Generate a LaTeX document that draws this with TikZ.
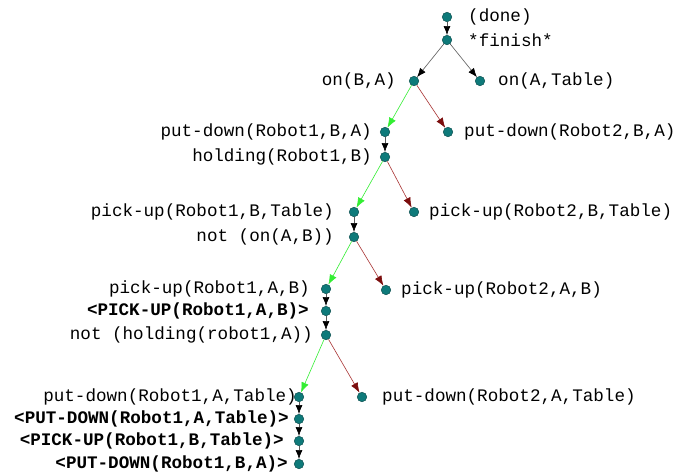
\documentclass[tikz,border=0pt]{standalone}
\usepackage{fontspec}
\usetikzlibrary{arrows.meta}
\newfontfamily\lblfont{Liberation Mono}
\definecolor{dotc}{HTML}{0E7A7A}
\definecolor{dotd}{HTML}{0A4F4F}
\definecolor{grn}{HTML}{33EE33}
\definecolor{rd}{HTML}{9A1010}
\begin{document}
\begin{tikzpicture}[x=1pt,y=-1pt,
  dot/.style={circle, fill=dotc, draw=dotd, line width=0.5pt, minimum size=9.5pt, inner sep=0pt},
  lblL/.style={anchor=east, inner sep=0pt, font=\lblfont\fontsize{17.6}{20}\selectfont},
  lblR/.style={anchor=west, inner sep=0pt, font=\lblfont\fontsize{17.6}{20}\selectfont},
  blk/.style={-{Latex[length=9pt,width=7pt,color=black]}, draw=black!65, line width=0.6pt},
  gr/.style={-{Latex[length=10pt,width=7.5pt]}, draw=grn, line width=0.6pt},
  rr/.style={-{Latex[length=10pt,width=7.5pt,color=rd!80!black]}, draw=rd!85, line width=0.6pt}]
\useasboundingbox[fill=white] (0,0) rectangle (680,472);
% dots
\node[dot] (done) at (447,17) {};
\node[dot] (fin) at (447,40) {};
\node[dot] (onBA) at (414,81) {};
\node[dot] (onAT) at (480,81) {};
\node[dot] (pdRaBA) at (385,132) {};
\node[dot] (pdRbBA) at (448,132) {};
\node[dot] (hold) at (385,157) {};
\node[dot] (puRaBT) at (354,212) {};
\node[dot] (puRbBT) at (414,212) {};
\node[dot] (noton) at (354,237) {};
\node[dot] (puRaAB) at (326,289) {};
\node[dot] (puRbAB) at (386,290) {};
\node[dot] (PUa) at (326,311) {};
\node[dot] (nothold) at (326,335) {};
\node[dot] (pdRaAT) at (299,397) {};
\node[dot] (pdRbAT) at (362,397) {};
\node[dot] (PDa) at (299,419) {};
\node[dot] (PUb) at (299,441) {};
\node[dot] (PDb) at (299,464) {};
% labels
\node[lblR] (tdone) at (468,17) {(done)};
\node[lblR] (tfin) at (468,40) {*finish*};
\node[lblL] (tonBA) at (396,81) {on(B,A)};
\node[lblR] (tonAT) at (498,81) {on(A,Table)};
\node[lblL] (tpdRaBA) at (372,132) {put-down(Robot1,B,A)};
\node[lblR] (tpdRbBA) at (464,132) {put-down(Robot2,B,A)};
\node[lblL] (thold) at (372,157) {holding(Robot1,B)};
\node[lblL] (tpuRaBT) at (334,212) {pick-up(Robot1,B,Table)};
\node[lblR] (tpuRbBT) at (429,212) {pick-up(Robot2,B,Table)};
\node[lblL] (tnoton) at (334,237) {not (on(A,B))};
\node[lblL] (tpuRaAB) at (310,289) {pick-up(Robot1,A,B)};
\node[lblR] (tpuRbAB) at (401,290) {pick-up(Robot2,A,B)};
\node[lblL] (tPUa) at (309,311) {\bfseries <PICK-UP(Robot1,A,B)>};
\node[lblL] (tnothold) at (313,335) {not (holding(robot1,A))};
\node[lblL] (tpdRaAT) at (297,397) {put-down(Robot1,A,Table)};
\node[lblR] (tpdRbAT) at (382,397) {put-down(Robot2,A,Table)};
\node[lblL] (tPDa) at (289,419) {\bfseries <PUT-DOWN(Robot1,A,Table)>};
\node[lblL] (tPUb) at (284,441) {\bfseries <PICK-UP(Robot1,B,Table)>};
\node[lblL] (tPDb) at (288,464) {\bfseries <PUT-DOWN(Robot1,B,A)>};
% connectors
\draw[blk] (done) -- (fin);
\draw[blk] (fin) -- (onBA);
\draw[blk] (fin) -- (onAT);
\draw[gr] (onBA) -- (pdRaBA);
\draw[rr] (onBA) -- (pdRbBA);
\draw[blk] (pdRaBA) -- (hold);
\draw[gr] (hold) -- (puRaBT);
\draw[rr] (hold) -- (puRbBT);
\draw[blk] (puRaBT) -- (noton);
\draw[gr] (noton) -- (puRaAB);
\draw[rr] (noton) -- (puRbAB);
\draw[blk] (puRaAB) -- (PUa);
\draw[blk] (PUa) -- (nothold);
\draw[gr] (nothold) -- (pdRaAT);
\draw[rr] (nothold) -- (pdRbAT);
\draw[blk] (pdRaAT) -- (PDa);
\draw[blk] (PDa) -- (PUb);
\draw[blk] (PUb) -- (PDb);
\end{tikzpicture}
\end{document}
